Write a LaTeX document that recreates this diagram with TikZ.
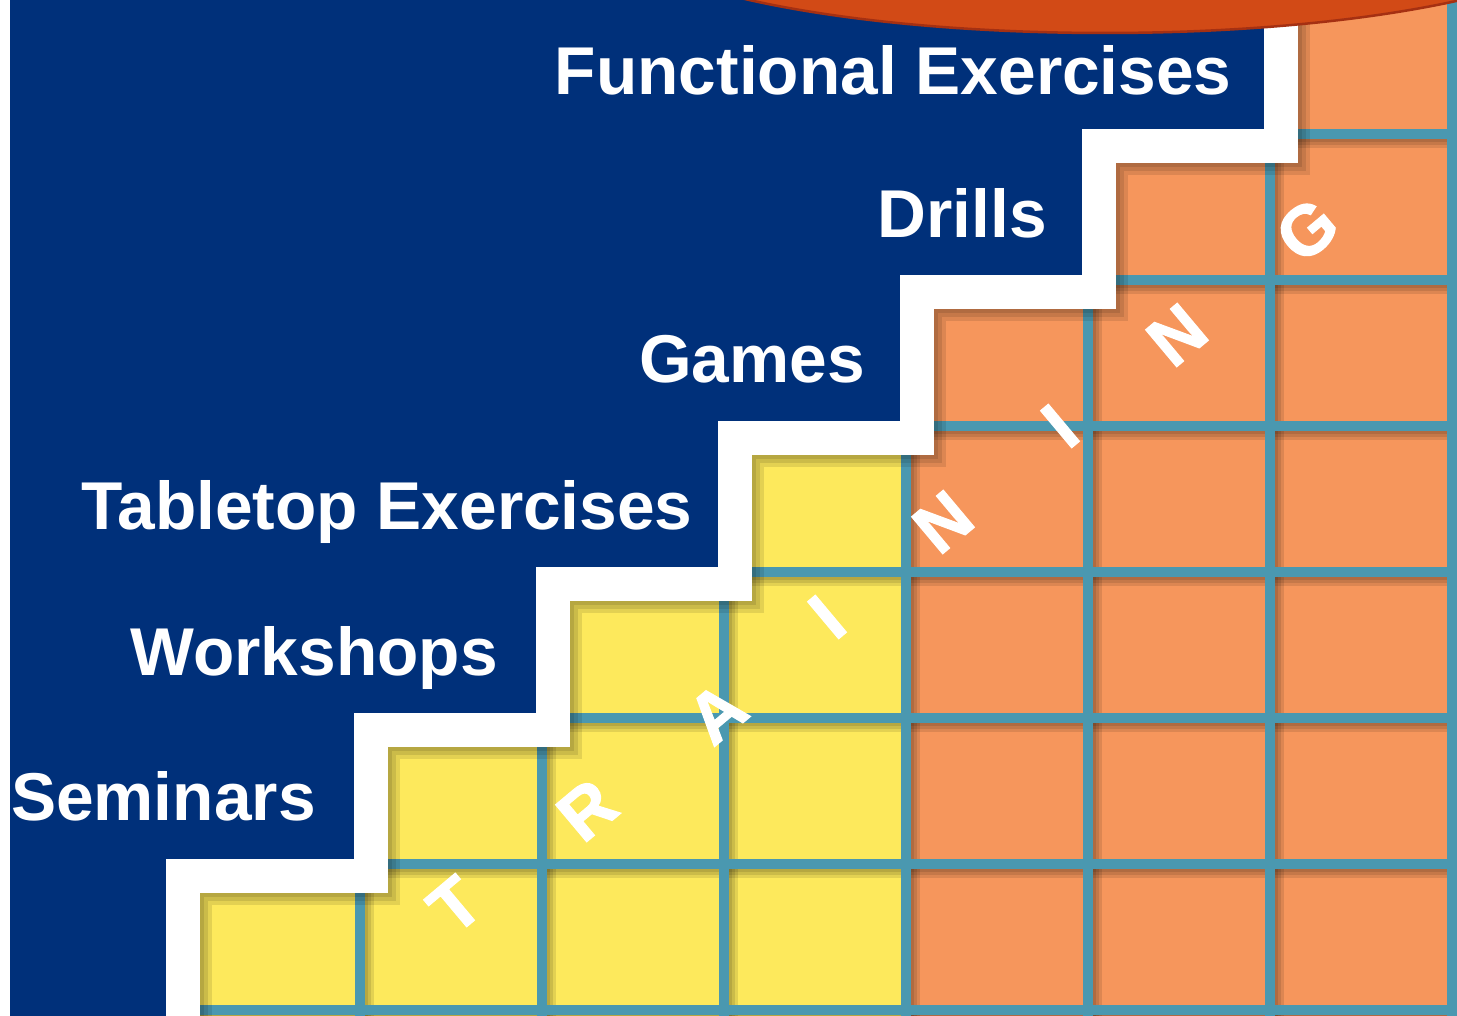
\documentclass[tikz,border=0pt]{standalone}
\usepackage{fontspec}
\setmainfont{Liberation Sans}
\newfontfamily\heavyfont[FakeBold=1.6]{Liberation Sans Bold}
\usepackage{tikz}
\definecolor{navy}{RGB}{0,48,122}
\definecolor{stepyellow}{RGB}{253,233,92}
\definecolor{steporange}{RGB}{246,150,92}
\definecolor{gridteal}{RGB}{74,152,176}
\definecolor{bannerred}{RGB}{210,74,22}
\definecolor{bannerline}{RGB}{165,48,18}

\begin{document}
\begin{tikzpicture}[x=0.02cm,y=-0.02cm]
% Styles for the step labels, the grid and the letters
\tikzstyle{step label}=[anchor=base east,inner sep=0,text=white,font=\fontsize{38.5}{40}\selectfont\bfseries]
\tikzstyle{grid line}=[draw=gridteal,line width=0.2cm]
\tikzstyle{grid shadow}=[draw=black,opacity=0.1,line width=0.2cm]
\tikzstyle{stair shadow}=[draw=black,opacity=0.1,line width=0.68cm,line join=miter]
\tikzstyle{letter}=[inner sep=0,rotate=40,text=white,font=\fontsize{40}{40}\selectfont\heavyfont]
% Canvas
\useasboundingbox (0,0) rectangle (1457,1016);
\clip (0,0) rectangle (1457,1016);
\fill[white] (0,0) rectangle (1457,1016);
\fill[navy] (10,0) rectangle (1457,1016);
% The cells: yellow for the first four columns, orange for the rest
\fill[stepyellow] (178,1016) |- (360,864) |- (542,718) |- (724,572) |- (906,426) -- (906,1016) -- cycle;
\fill[steporange] (906,1016) |- (1088,280) |- (1270,134) |- (1457,-12) -- (1457,1016) -- cycle;
% The grid, kept inside the cells
\begin{scope}
\clip (178,1016) |- (360,864) |- (542,718) |- (724,572) |- (906,426) |- (1088,280) |- (1270,134) |- (1457,-12) -- (1457,1016) -- cycle;
\foreach \d in {3,6,9}{
\foreach \r in {1010,864,718,572,426,280,134}
\draw[grid shadow] (178,\r+\d) -- (1457,\r+\d);
\foreach \c in {360,542,724,906,1088,1270,1452}
\draw[grid shadow] (\c+\d,-12) -- (\c+\d,1016);
}
\foreach \r in {1010,864,718,572,426,280,134}
\draw[grid line] (178,\r) -- (1457,\r);
\foreach \c in {360,542,724,906,1088,1270,1452}
\draw[grid line] (\c,-12) -- (\c,1016);
% The white staircase throws a soft shadow on the cells
\foreach \d in {4,8,12}
\draw[stair shadow] (183+\d,1030+\d) |- (371+\d,876+\d) |- (553+\d,730+\d) |- (735+\d,584+\d) |- (917+\d,438+\d) |- (1099+\d,292+\d) |- (1281+\d,146+\d) -- (1281+\d,-20);
\end{scope}
% The white staircase
\draw[white,line width=0.68cm,line join=miter] (183,1030) |- (371,876) |- (553,730) |- (735,584) |- (917,438) |- (1099,292) |- (1281,146) -- (1281,-20);
% Step labels
\node[step label] (seminars) at (316,820) {Seminars};
\node[step label] (workshops) at (498,675) {Workshops};
\node[step label] (tabletop) at (693,530) {Tabletop Exercises};
\node[step label] (games) at (865,383) {Games};
\node[step label] (drills) at (1047,238) {Drills};
\node[step label] (functional) at (1232,95) {Functional Exercises};
% TRAINING up the steps
\foreach \ch/\px/\py [count=\i] in {T/455/905,R/587/810,A/717/713,I/827/617,N/943/522,I/1060/426,N/1177/335,G/1307/230}
\node[letter] (letter\i) at (\px,\py) {\ch};
% Banner at the top
\draw[fill=bannerred,draw=bannerline,line width=0.05cm] (1105,-78) ellipse [x radius=500,y radius=111];
\end{tikzpicture}
\end{document}
